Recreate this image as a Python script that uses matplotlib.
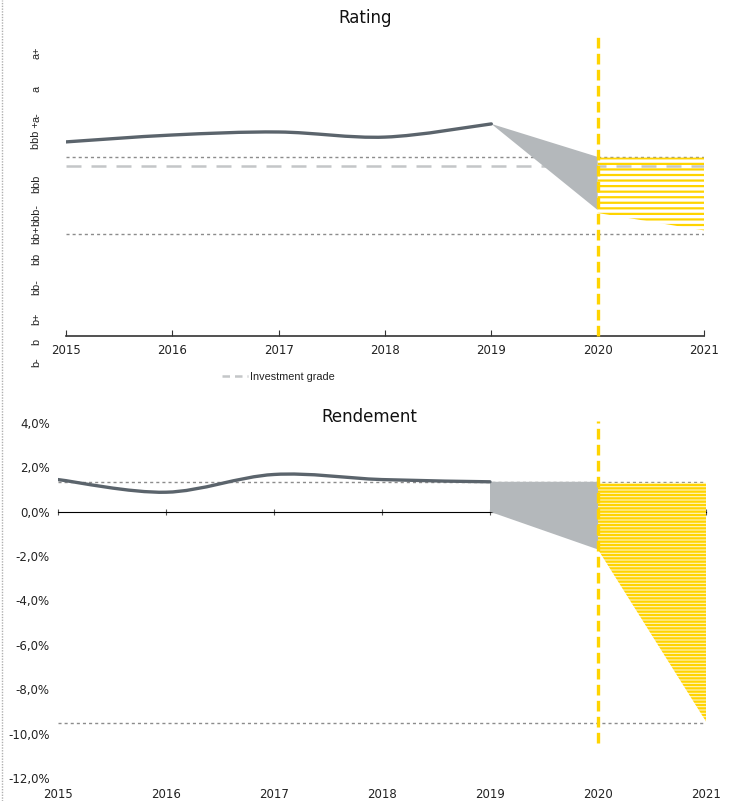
import numpy as np
import matplotlib
matplotlib.use("Agg")
import matplotlib.pyplot as plt
from matplotlib.path import Path
from matplotlib.patches import PathPatch, Polygon
from matplotlib.lines import Line2D

plt.rcParams['font.family'] = ['DejaVu Sans']
plt.rcParams['hatch.linewidth'] = 1.6

# ---------------- data ----------------
years = [2015, 2016, 2017, 2018, 2019, 2020, 2021]
hist_years = [2015, 2016, 2017, 2018, 2019]

# Rating chart (score scale, 0 = axis baseline)
rating_labels = ["b-", "b", "b+", "bb-", "bb", "bb+", "bbb-", "bbb", "bbb +", "a-", "a", "a+"]
rating_label_pos = [-0.87, -0.2, 0.57, 1.63, 2.57, 3.37, 4.03, 5.07, 6.7, 7.3, 8.23, 9.43]
rating_hist = [6.47, 6.70, 6.80, 6.63, 7.07]
rating_upper = 5.97
rating_lower = 3.40
investment_grade = 5.67
rating_cone_2020_low = 4.20
rating_band_low = [4.10, 3.52]     # 2020, 2021
rating_band_high = [5.95, 5.95]

# Rendement chart (%)
yield_ticks = [4, 2, 0, -2, -4, -6, -8, -10, -12]
yield_hist = [1.45, 0.88, 1.68, 1.45, 1.35]
yield_upper = 1.35
yield_lower = -9.5
yield_cone_2020_low = -1.70
yield_band_low = [-1.70, -9.45]    # 2020, 2021
yield_band_high = [1.30, 1.30]

LINE = '#5b646c'
CONE = '#b4b8bb'
YELLOW = '#ffd400'
DOT = '#8c8c8c'
TXT = '#222222'
NARROW = ['Liberation Sans', 'DejaVu Sans']


def smooth_path(xs, ys):
    """Catmull-Rom style smoothed path through the points (Bezier segments)."""
    pts = np.column_stack([xs, ys]).astype(float)
    n = len(pts)
    verts = [pts[0]]
    codes = [Path.MOVETO]
    for i in range(n - 1):
        p0 = pts[i - 1] if i > 0 else pts[i]
        p1 = pts[i]
        p2 = pts[i + 1]
        p3 = pts[i + 2] if i + 2 < n else pts[i + 1]
        c1 = p1 + (p2 - p0) / 6.0
        c2 = p2 - (p3 - p1) / 6.0
        verts += [c1, c2, p2]
        codes += [Path.CURVE4] * 3
    return Path(verts, codes)


W, H = 741, 801
fig = plt.figure(figsize=(W / 100, H / 100), dpi=100)

# ================= Rating =================
ax1 = fig.add_axes([66 / W, 1 - 369 / H, (704 - 66) / W, 333 / H])
ax1.set_xlim(2015, 2021)
ax1.set_ylim(-1.1, 10)
for s in ['top', 'right', 'left']:
    ax1.spines[s].set_visible(False)
ax1.spines['bottom'].set_position(('data', 0))
ax1.spines['bottom'].set_color('#333333')
ax1.spines['bottom'].set_linewidth(1.2)
ax1.set_xticks(years)
ax1.set_xticklabels([str(y) for y in years])
ax1.tick_params(axis='x', direction='in', length=4, color='#333333', labelsize=8.5,
                labelcolor=TXT, pad=6)
ax1.set_yticks(rating_label_pos)
ax1.set_yticklabels(rating_labels, rotation=90, va='center', family=NARROW)
ax1.tick_params(axis='y', length=0, labelsize=7.8, labelcolor=TXT, pad=18)
for lbl in ax1.get_yticklabels():
    lbl.set_clip_on(False)

ax1.hlines([rating_upper, rating_lower], 2015, 2021, colors=DOT, linestyles=(0, (2.2, 2.2)),
           linewidth=1.0, zorder=2)
ax1.hlines(investment_grade, 2015, 2021, colors='#c4c6c8', linestyles=(0, (6, 4)),
           linewidth=1.8, zorder=2)

ax1.add_patch(Polygon([(2019, rating_hist[-1]), (2020, rating_upper),
                       (2020, rating_cone_2020_low)], closed=True,
                      facecolor=CONE, edgecolor='none', zorder=3))
ax1.add_patch(Polygon([(2020, rating_band_high[0]), (2021, rating_band_high[1]),
                       (2021, rating_band_low[1]), (2020, rating_band_low[0])], closed=True,
                      facecolor='none', edgecolor=YELLOW, linewidth=0, hatch='---', zorder=3))
ax1.add_patch(PathPatch(smooth_path(hist_years, rating_hist), facecolor='none',
                        edgecolor=LINE, linewidth=2.4, capstyle='round', zorder=5))
ax1.vlines(2020, 0, 10, colors=YELLOW, linestyles=(0, (3.2, 1.6)), linewidth=2.4, zorder=6)

fig.text(365 / W, 1 - 18 / H, "Rating", ha='center', va='center', fontsize=12, color='#111111')

leg_handle = Line2D([], [], color='#c4c6c8', linestyle=(0, (3, 2)), linewidth=1.8)
fig.legend([leg_handle], ["Investment grade"], loc='center',
           bbox_to_anchor=(278 / W, 1 - 377 / H), frameon=False, handlelength=2.4,
           handletextpad=0.2, prop={'family': NARROW, 'size': 7.8},
           labelcolor=TXT)

# ================= Rendement =================
ax2 = fig.add_axes([58 / W, 1 - 778 / H, (706 - 58) / W, 355 / H])
ax2.set_xlim(2015, 2021)
ax2.set_ylim(-12, 4)
for s in ['top', 'right', 'left', 'bottom']:
    ax2.spines[s].set_visible(False)
ax2.set_xticks(years)
ax2.set_xticklabels([str(y) for y in years])
ax2.tick_params(axis='x', length=0, labelsize=8.5, labelcolor=TXT, pad=7)
ax2.set_yticks(yield_ticks)
ax2.set_yticklabels([f"{v:.1f}%".replace('.', ',') for v in yield_ticks])
ax2.tick_params(axis='y', length=0, labelsize=8.5, labelcolor=TXT, pad=6)

zero_axis = ax2.secondary_xaxis(12 / 16)
zero_axis.set_xticks(years)
zero_axis.tick_params(axis='x', direction='inout', length=4, color='#555555',
                      labelbottom=False, labeltop=False)
zero_axis.spines['bottom'].set_color('#555555')
zero_axis.spines['bottom'].set_linewidth(1.4)

ax2.hlines([yield_upper, yield_lower], 2015, 2021, colors=DOT, linestyles=(0, (2.2, 2.2)),
           linewidth=1.0, zorder=2)
ax2.add_patch(Polygon([(2019, yield_upper), (2020, yield_upper),
                       (2020, yield_cone_2020_low), (2019, 0)], closed=True,
                      facecolor=CONE, edgecolor='none', zorder=3))
ax2.add_patch(Polygon([(2020, yield_band_high[0]), (2021, yield_band_high[1]),
                       (2021, yield_band_low[1]), (2020, yield_band_low[0])], closed=True,
                      facecolor='#fff4c2', edgecolor=YELLOW, linewidth=0, hatch='-----', zorder=3))
ax2.add_patch(PathPatch(smooth_path(hist_years, yield_hist), facecolor='none',
                        edgecolor=LINE, linewidth=2.4, capstyle='round', zorder=5))
ax2.vlines(2020, -10.4, 4.1, colors=YELLOW, linestyles=(0, (3.2, 1.6)), linewidth=2.4,
           zorder=6, clip_on=False)

fig.text(369 / W, 1 - 417 / H, "Rendement", ha='center', va='center', fontsize=12, color='#111111')

# dotted page border on the left edge
fig.add_artist(Line2D([1.5 / W, 1.5 / W], [0, 1], transform=fig.transFigure,
                      color='#b0b0b0', linestyle=(0, (1, 1)), linewidth=1.0))

fig.savefig("out.png", dpi=100)
